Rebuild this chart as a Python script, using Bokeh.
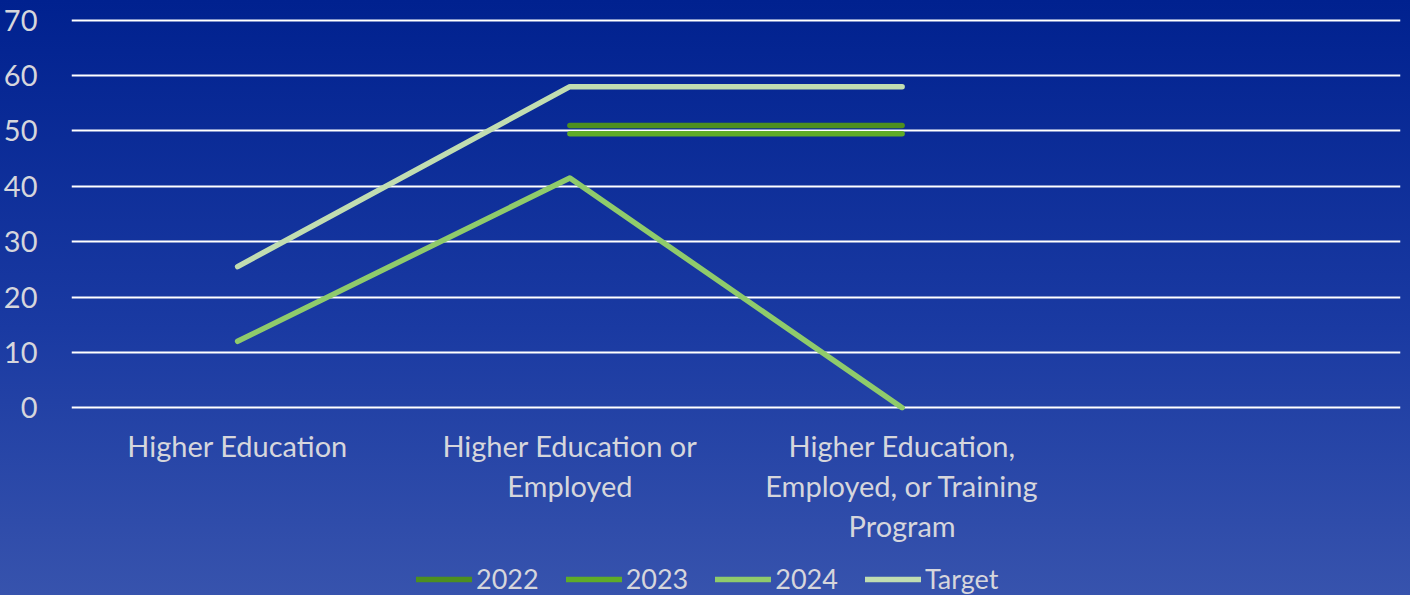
from bokeh.plotting import figure
from bokeh.layouts import column
from bokeh.models import FactorRange, Range1d, SingleIntervalTicker, Legend, LegendItem, InlineStyleSheet, ColumnDataSource
from bokeh.embed import file_html
from bokeh.resources import INLINE

categories = ["Higher Education", "Higher Education or\nEmployed", "Higher Education,\nEmployed, or Training\nProgram", " "]
series_names = ["2022", "2023", "2024", "Target"]
v2022 = [float("nan"), 51, 51]
v2023 = [float("nan"), 49.5, 49.5]
v2024 = [12, 41.5, 0]
vtarget = [25.5, 58, 58]
colors = ["#4d8f1f", "#5fac28", "#8fcb6b", "#c1ddb1"]

FONT = "Lato"
TXT = "#d6d6dc"
W = 1410

p = figure(width=W, height=555, x_range=FactorRange(*categories), y_range=Range1d(-0.5, 70.5),
           output_backend="svg", toolbar_location=None,
           min_border_left=71, min_border_right=10, min_border_top=17, min_border_bottom=145)
p.background_fill_color = None
p.border_fill_color = None
p.outline_line_color = None

p.xgrid.grid_line_color = None
p.ygrid.grid_line_color = "white"
p.ygrid.grid_line_width = 2

p.yaxis.ticker = SingleIntervalTicker(interval=10)
for ax in (p.xaxis[0], p.yaxis[0]):
    ax.axis_line_color = None
    ax.major_tick_line_color = None
    ax.minor_tick_line_color = None
    ax.major_label_text_color = TXT
    ax.major_label_text_font = FONT
    ax.major_label_text_font_size = "29px"
p.yaxis.major_label_standoff = 28
p.xaxis.major_label_standoff = 11
p.xaxis.major_label_text_line_height = 1.15

x = categories[:3]
for name, vals, c in zip(series_names, [v2022, v2023, v2024, vtarget], colors):
    src = ColumnDataSource(dict(x=x, y=vals))
    p.line("x", "y", source=src, line_color=c, line_width=5.5, line_cap="round", line_join="round")

# legend strip below the chart (swatch-only renderers holding no visible data)
lg = figure(width=W, height=40, x_range=Range1d(0, 1), y_range=Range1d(0, 1),
            output_backend="svg", toolbar_location=None, x_axis_type=None, y_axis_type=None,
            min_border=0)
lg.background_fill_color = None
lg.border_fill_color = None
lg.outline_line_color = None
lg.grid.grid_line_color = None
items = []
for name, c in zip(series_names, colors):
    r = lg.line(x=[float("nan")], y=[float("nan")], line_color=c, line_width=5.5, line_cap="round")
    items.append(LegendItem(label=name, renderers=[r]))
legend = Legend(items=items, orientation="horizontal", location=(345, 0),
                glyph_width=56, glyph_height=20, label_standoff=4, spacing=27,
                label_text_font=FONT, label_text_font_size="27px", label_text_color=TXT,
                background_fill_alpha=0, border_line_color=None, padding=2, margin=0)
lg.add_layout(legend, "center")

layout = column(p, lg, spacing=0)
layout.stylesheets = [InlineStyleSheet(css=":host { background: linear-gradient(to bottom, #00218f 0%, #1a3aa2 55%, #3753ad 100%); }")]

open("out.html", "w").write(file_html(layout, INLINE))
